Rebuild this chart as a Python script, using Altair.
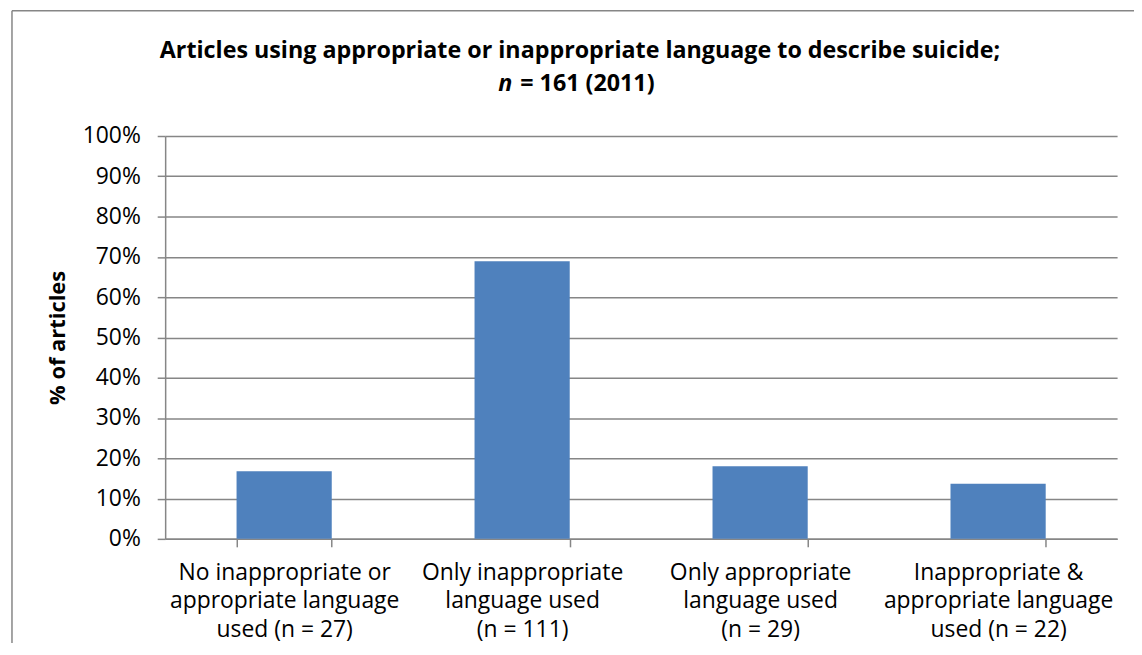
import altair as alt
import pandas as pd

# ---- data ----
categories = [
    "No inappropriate or|appropriate language|used (n = 27)",
    "Only inappropriate|language used|(n = 111)",
    "Only appropriate|language used|(n = 29)",
    "Inappropriate &|appropriate language|used (n = 22)",
]
percent = [16.8, 68.9, 18.0, 13.7]
y_ticks = [0, 10, 20, 30, 40, 50, 60, 70, 80, 90, 100]
title_line1 = ["Articles using appropriate or inappropriate language to describe suicide;"]
title_n = ["n"]
title_rest = ["= 161 (2011)"]
y_title = "% of articles"

# ---- styling ----
W, H = 957, 405
GRAY = "#868686"
BAR = "#4F81BD"
FONT = "Open Sans"
LABEL_SIZE = 23
TITLE_SIZE = 23.4

df = pd.DataFrame({"category": categories, "percent": percent})

bars = alt.Chart(df).mark_bar(color=BAR).encode(
    x=alt.X(
        "category:N",
        sort=categories,
        scale=alt.Scale(paddingInner=0.6, paddingOuter=0.3),
        axis=alt.Axis(
            title=None,
            labelAngle=0,
            labelExpr="split(datum.label, '|')",
            labelFont=FONT,
            labelFontSize=LABEL_SIZE,
            labelColor="black",
            labelLineHeight=28.5,
            labelPadding=15,
            labelLimit=400,
            labelOverlap=False,
            labelBaseline="top",
            tickBand="extent",
            tickSize=8,
            tickColor=GRAY,
            tickWidth=1.5,
            domainColor=GRAY,
            domainWidth=1.5,
            grid=False,
        ),
    ),
    y=alt.Y(
        "percent:Q",
        scale=alt.Scale(domain=[0, 100], nice=False),
        axis=alt.Axis(
            values=y_ticks,
            labelExpr="datum.value + '%'",
            labelFont=FONT,
            labelFontSize=LABEL_SIZE,
            labelColor="black",
            labelPadding=17,
            tickSize=8,
            tickColor=GRAY,
            tickWidth=1.5,
            domainColor=GRAY,
            domainWidth=1.5,
            grid=True,
            gridColor=GRAY,
            gridWidth=1.5,
            title=y_title,
            titleFont=FONT,
            titleFontSize=22,
            titleFontWeight="bold",
            titleColor="black",
            titleAngle=270,
            titleAlign="center",
            titleBaseline="middle",
            titleX=-108,
            titleY=H / 2,
        ),
    ),
)

one = alt.Data(values=[{}])

# chart-area outline: only the top and left edges are inside the visible window
border_top = alt.Chart(one).mark_rule(color=GRAY, strokeWidth=1.5).encode(
    x=alt.value(-154), x2=alt.value(W + 17), y=alt.value(-126)
)
border_left = alt.Chart(one).mark_rule(color=GRAY, strokeWidth=1.5).encode(
    x=alt.value(-154), y=alt.value(-126), y2=alt.value(H + 130)
)

t1 = alt.Chart(alt.Data(values=[{"t": title_line1[0]}])).mark_text(
    font=FONT, fontSize=TITLE_SIZE, fontWeight="bold", align="center", baseline="middle", color="black"
).encode(text="t:N", x=alt.value(417), y=alt.value(-85))

t2a = alt.Chart(alt.Data(values=[{"t": title_n[0]}])).mark_text(
    font=FONT, fontSize=TITLE_SIZE, fontWeight="bold", fontStyle="italic", align="right",
    baseline="middle", color="black"
).encode(text="t:N", x=alt.value(349), y=alt.value(-52))

t2b = alt.Chart(alt.Data(values=[{"t": title_rest[0]}])).mark_text(
    font=FONT, fontSize=TITLE_SIZE, fontWeight="bold", align="left", baseline="middle", color="black"
).encode(text="t:N", x=alt.value(357), y=alt.value(-52))

chart = (
    alt.layer(border_top, border_left, bars, t1, t2a, t2b)
    .properties(
        width=W,
        height=H,
        padding={"left": 158, "top": 127, "right": 17, "bottom": 103},
        autosize=alt.AutoSizeParams(type="none"),
        background="white",
    )
    .configure_view(stroke="transparent")
)

chart.save("out.html", embed_options={"renderer": "svg", "actions": False})
